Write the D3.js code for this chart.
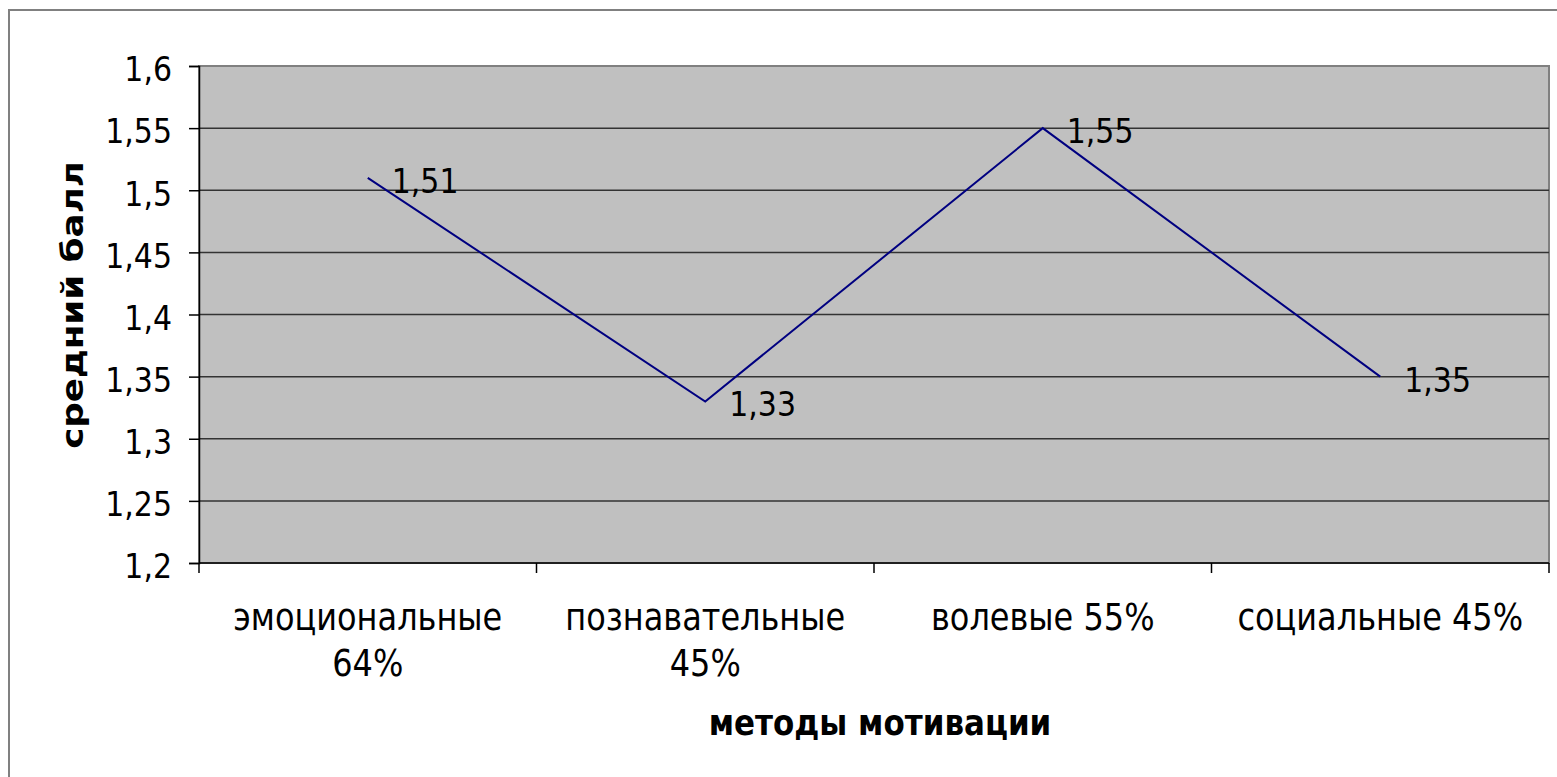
<!DOCTYPE html>
<html lang="ru">
<head>
    <meta charset="UTF-8">
    <title>средний балл</title>
    <script src="https://d3js.org/d3.v7.min.js"></script>
    <style>
        body { margin: 0; background: #fff; }
        text { font-family: "DejaVu Sans", sans-serif; fill: #000; }
    </style>
</head>
<body>
    <svg width="1557" height="777"></svg>
    <script>
        // данные
        var categories = ["эмоциональные 64%", "познавательные 45%", "волевые 55%", "социальные 45%"];
        var categoryLines = [["эмоциональные", "64%"], ["познавательные", "45%"], ["волевые 55%"], ["социальные 45%"]];
        var values = [1.51, 1.33, 1.55, 1.35];
        var valueLabels = ["1,51", "1,33", "1,55", "1,35"];
        var yTicks = [1.2, 1.25, 1.3, 1.35, 1.4, 1.45, 1.5, 1.55, 1.6];
        var yTickLabels = ["1,2", "1,25", "1,3", "1,35", "1,4", "1,45", "1,5", "1,55", "1,6"];

        var svg = d3.select("svg");
        var plotLeft = 199, plotRight = 1549, plotTop = 66, plotBottom = 563;
        var stretch = "scale(1,1.15)";  // текст в оригинале чуть вытянут по вертикали

        // рамка
        svg.append("rect")
            .attr("x", 9).attr("y", 10)
            .attr("width", 1570).attr("height", 800)
            .attr("fill", "none")
            .attr("stroke", "#808080")
            .attr("stroke-width", 2);

        var x = d3.scaleBand().domain(categories).range([plotLeft, plotRight]);
        var y = d3.scaleLinear().domain([1.2, 1.6]).range([plotBottom, plotTop]);

        svg.append("rect")
            .attr("x", plotLeft).attr("y", plotTop)
            .attr("width", plotRight - plotLeft).attr("height", plotBottom - plotTop)
            .attr("fill", "#c0c0c0")
            .attr("stroke", "#808080")
            .attr("stroke-width", 2);

        // сетка
        svg.append("g").selectAll("line")
            .data(yTicks.slice(1, -1))
            .enter().append("line")
            .attr("x1", plotLeft).attr("x2", plotRight)
            .attr("y1", d => y(d)).attr("y2", d => y(d))
            .attr("stroke", "#333")
            .attr("stroke-width", 1.5);

        // ось Y
        var yAxis = svg.append("g")
            .attr("transform", "translate(" + plotLeft + ",0)")
            .call(d3.axisLeft(y).tickValues(yTicks).tickSize(10).tickPadding(17)
                .tickFormat((d, i) => yTickLabels[i]));
        yAxis.select(".domain").attr("stroke", "#000").attr("stroke-width", 1.5);
        yAxis.selectAll(".tick line").attr("stroke", "#000").attr("stroke-width", 1.5);
        yAxis.selectAll(".tick text")
            .attr("font-size", 30).attr("font-family", "DejaVu Sans").attr("fill", "#000")
            .attr("dy", "0.43em")
            .attr("transform", stretch);

        // ось X
        var xAxis = svg.append("g")
            .attr("transform", "translate(0," + plotBottom + ")");
        xAxis.append("line")
            .attr("x1", plotLeft).attr("x2", plotRight)
            .attr("stroke", "#000").attr("stroke-width", 1.5);
        xAxis.selectAll(".xtick")
            .data(d3.range(categories.length + 1))
            .enter().append("line")
            .attr("x1", i => plotLeft + i * x.step())
            .attr("x2", i => plotLeft + i * x.step())
            .attr("y1", 0).attr("y2", 10)
            .attr("stroke", "#000").attr("stroke-width", 1.5);

        var catText = xAxis.selectAll(".cat")
            .data(categories)
            .enter().append("text")
            .attr("text-anchor", "middle")
            .attr("font-size", 32)
            .attr("transform", d => "translate(" + (x(d) + x.bandwidth() / 2) + ",67)" + stretch);
        catText.each(function(d, i) {
            d3.select(this).selectAll("tspan")
                .data(categoryLines[i])
                .enter().append("tspan")
                .attr("x", 0)
                .attr("y", (t, j) => j * 40)
                .text(t => t);
        });

        // линия
        var line = d3.line()
            .x((d, i) => x(categories[i]) + x.bandwidth() / 2)
            .y(d => y(d));
        svg.append("path")
            .datum(values)
            .attr("d", line)
            .attr("fill", "none")
            .attr("stroke", "#000080")
            .attr("stroke-width", 2);

        // подписи значений
        svg.selectAll(".vlabel")
            .data(values)
            .enter().append("text")
            .attr("transform", (d, i) => "translate(" + (x(categories[i]) + x.bandwidth() / 2 + 24) + "," + (y(d) + 15) + ")" + stretch)
            .attr("font-size", 30)
            .text((d, i) => valueLabels[i]);

        // названия осей
        svg.append("text")
            .attr("transform", "translate(" + ((plotLeft + plotRight) / 2 + 6) + ",735)" + stretch)
            .attr("text-anchor", "middle")
            .attr("font-size", 31)
            .attr("font-weight", "bold")
            .text("методы мотивации");

        svg.append("text")
            .attr("transform", "translate(83,305)" + stretch + "rotate(-90)")
            .attr("text-anchor", "middle")
            .attr("font-size", 31)
            .attr("font-weight", "bold")
            .text("средний балл");
    </script>
</body>
</html>
